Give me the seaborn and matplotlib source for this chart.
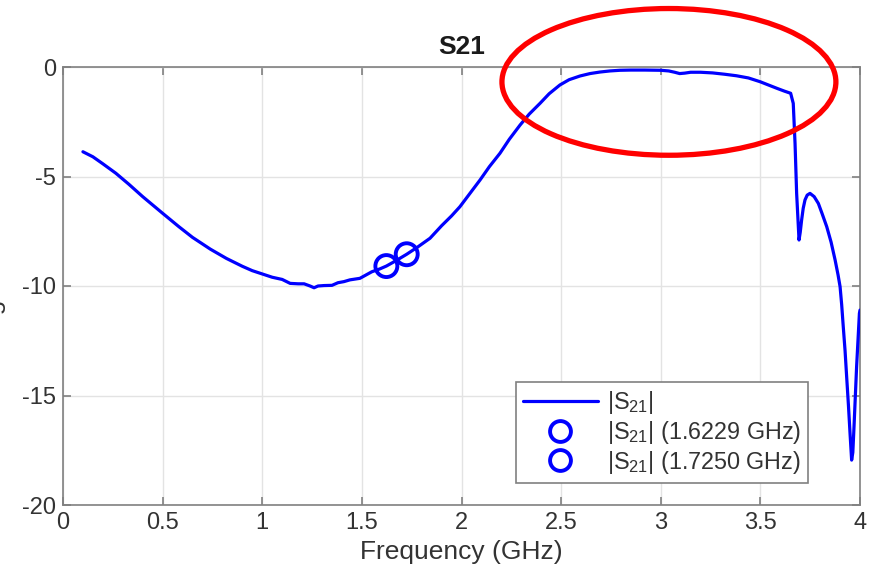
import matplotlib
matplotlib.use("Agg")
import matplotlib.pyplot as plt
from matplotlib.patches import Ellipse
from matplotlib.lines import Line2D
import seaborn as sns
import pandas as pd

# ---- data ----
freq_ghz = [0.10, 0.15, 0.20, 0.265, 0.33, 0.40, 0.45, 0.50, 0.58, 0.65, 0.74, 0.82,
            0.90, 0.95, 1.00, 1.05, 1.10, 1.14, 1.18, 1.21, 1.24, 1.26, 1.28, 1.31,
            1.35, 1.38, 1.41, 1.44, 1.49, 1.52, 1.55, 1.59, 1.6229, 1.67, 1.725, 1.78,
            1.842, 1.90, 1.95, 1.992, 2.04, 2.093, 2.14, 2.193, 2.24, 2.294, 2.34, 2.394,
            2.44, 2.494, 2.54, 2.595, 2.645, 2.695, 2.745, 2.795, 2.85, 2.92, 3.00, 3.04,
            3.07, 3.095, 3.12, 3.15, 3.20, 3.26, 3.32, 3.38, 3.44, 3.498, 3.54, 3.582,
            3.62, 3.652, 3.665, 3.674, 3.682, 3.694, 3.700, 3.707, 3.715, 3.724, 3.735,
            3.749, 3.77, 3.791, 3.81, 3.833, 3.855, 3.875, 3.89, 3.90, 3.908, 3.916,
            3.925, 3.933, 3.942, 3.95, 3.958, 3.964, 3.97, 3.983, 3.997, 4.00]
s21_db = [-3.87, -4.10, -4.42, -4.85, -5.35, -5.92, -6.30, -6.68, -7.28, -7.78, -8.32, -8.74,
          -9.10, -9.30, -9.45, -9.60, -9.70, -9.88, -9.90, -9.90, -10.00, -10.08, -10.00, -9.98,
          -9.97, -9.85, -9.80, -9.72, -9.65, -9.50, -9.35, -9.22, -9.09, -8.85, -8.55, -8.22,
          -7.82, -7.25, -6.80, -6.38, -5.80, -5.16, -4.55, -3.94, -3.30, -2.65, -2.15, -1.66,
          -1.22, -0.82, -0.58, -0.41, -0.30, -0.23, -0.18, -0.15, -0.14, -0.14, -0.15, -0.18,
          -0.24, -0.30, -0.28, -0.24, -0.24, -0.27, -0.33, -0.40, -0.50, -0.67, -0.82, -0.97,
          -1.10, -1.20, -1.66, -3.49, -5.77, -7.90, -7.55, -6.99, -6.45, -6.07, -5.85,
          -5.77, -5.92, -6.23, -6.70, -7.29, -8.00, -8.81, -9.50, -10.03, -10.85, -11.86,
          -12.95, -14.14, -15.45, -16.73, -17.95, -17.60, -16.42, -13.68, -11.25, -11.10]

marker_freq = [1.6229, 1.7250]
marker_db = [-9.09, -8.55]
marker_labels = ["|S$_{\\mathrm{21}}$| (1.6229 GHz)", "|S$_{\\mathrm{21}}$| (1.7250 GHz)"]
line_label = "|S$_{\\mathrm{21}}$|"

x_ticks = [0, 0.5, 1, 1.5, 2, 2.5, 3, 3.5, 4]
x_tick_labels = ["0", "0.5", "1", "1.5", "2", "2.5", "3", "3.5", "4"]
y_ticks = [-20, -15, -10, -5, 0]
y_tick_labels = ["-20", "-15", "-10", "-5", "0"]

# highlight ellipse (annotation), data coords
ell_center = (3.041, -0.68)
ell_width = 1.676
ell_height = 6.70

# ---- style ----
sns.set_theme(style="white")
plt.rcParams["font.family"] = ["Liberation Sans", "DejaVu Sans"]
plt.rcParams["mathtext.fontset"] = "custom"
plt.rcParams["mathtext.rm"] = "Liberation Sans"
plt.rcParams["mathtext.it"] = "Liberation Sans:italic"
plt.rcParams["mathtext.bf"] = "Liberation Sans:bold"

fig = plt.figure(figsize=(8.69, 5.79), dpi=100)
ax = fig.add_axes([63 / 869, 1 - 505 / 579, (860 - 63) / 869, (505 - 67) / 579])

df = pd.DataFrame({"f": freq_ghz, "s": s21_db})
sns.lineplot(data=df, x="f", y="s", ax=ax, color="#0000ff", linewidth=2.3,
             sort=False, estimator=None, legend=False, zorder=3)

mdf = pd.DataFrame({"f": marker_freq, "s": marker_db})
sns.scatterplot(data=mdf, x="f", y="s", ax=ax, marker="o", s=250,
                facecolors="none", edgecolor="#0000ff", linewidth=2.8,
                legend=False, zorder=4)

ell = Ellipse(ell_center, ell_width, ell_height, fill=False, edgecolor="#ff0000",
              linewidth=3.8, clip_on=False, zorder=5)
ax.add_patch(ell)

ax.set_xlim(0, 4)
ax.set_ylim(-20, 0)
ax.set_xticks(x_ticks)
ax.set_xticklabels(x_tick_labels)
ax.set_yticks(y_ticks)
ax.set_yticklabels(y_tick_labels)
ax.grid(True, color="#e3e3e3", linewidth=1.0)
ax.set_axisbelow(True)

for sp in ax.spines.values():
    sp.set_color("#808080")
    sp.set_linewidth(1.2)
ax.tick_params(direction="in", length=6, width=1.2, color="#808080",
               labelcolor="#333333", labelsize=17, top=True, right=True,
               bottom=True, left=True, pad=5)

ax.set_title("S21", fontsize=19, fontweight="bold", color="#1a1a1a", pad=9)
ax.set_xlabel("Frequency (GHz)", fontsize=19, color="#333333", labelpad=4)
ax.set_ylabel("Magnitude", fontsize=19, color="#333333")
ax.yaxis.set_label_coords(-0.0745, 0.5)

handles = [
    Line2D([], [], color="#0000ff", linewidth=2.3),
    Line2D([], [], color="#0000ff", marker="o", linestyle="none", markersize=15,
           markerfacecolor="none", markeredgewidth=2.8),
    Line2D([], [], color="#0000ff", marker="o", linestyle="none", markersize=15,
           markerfacecolor="none", markeredgewidth=2.8),
]
leg = ax.legend(handles, [line_label] + marker_labels, loc="upper right",
                bbox_to_anchor=(0.935, 0.281), borderaxespad=0, fontsize=16.8,
                frameon=True, fancybox=False, framealpha=1, edgecolor="#808080",
                handlelength=3.2, labelspacing=0.12, borderpad=0.3, handletextpad=0.4)
leg.get_frame().set_linewidth(1.2)
for t in leg.get_texts():
    t.set_color("#333333")

fig.savefig("out.png", dpi=100)
